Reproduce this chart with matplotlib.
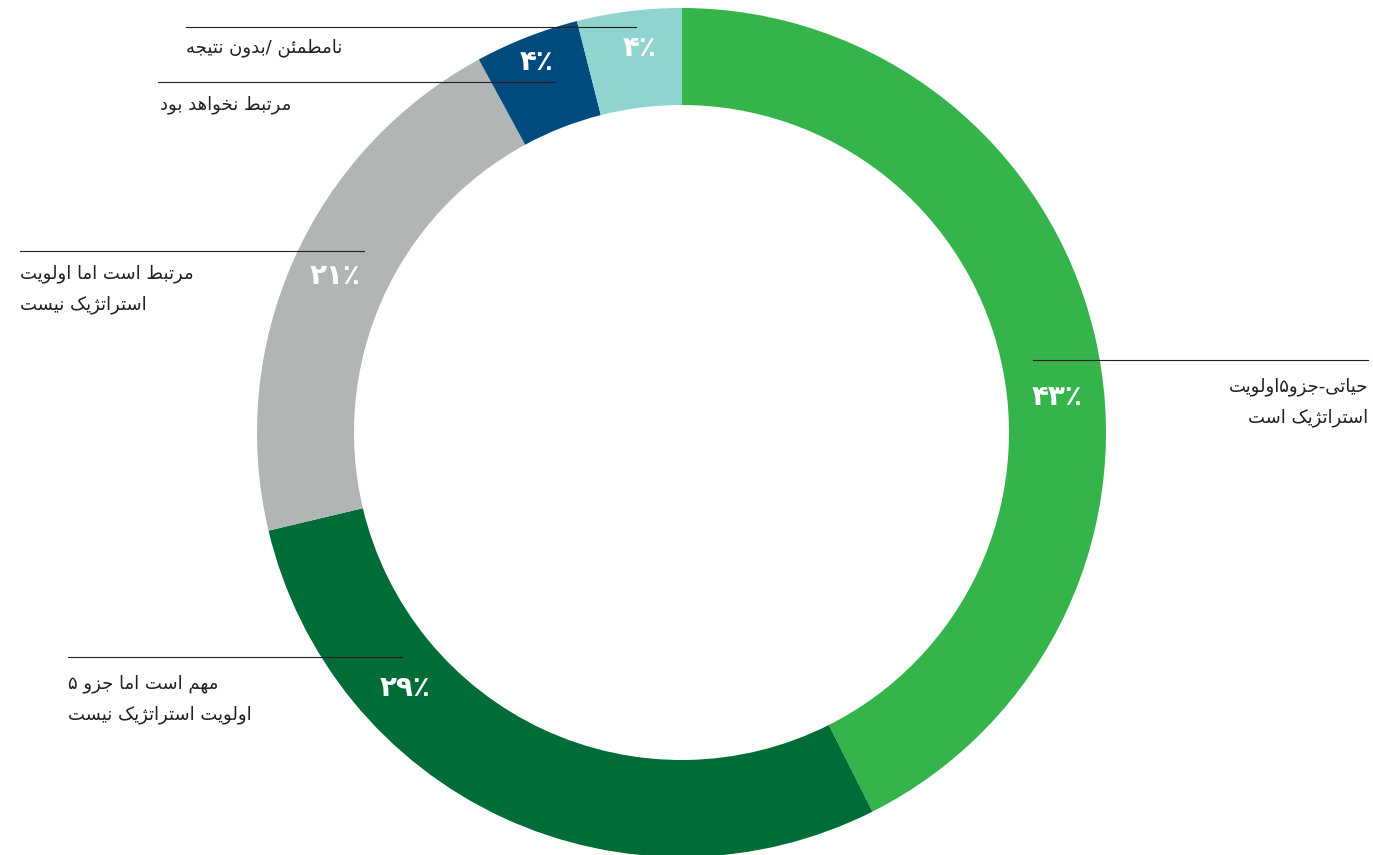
import matplotlib
matplotlib.use("Agg")
import matplotlib.pyplot as plt

W, H = 1373, 855

# share of answers, clockwise from 12 o'clock
values = [43, 29, 21, 4, 4]
pct_labels = ["۴۳٪", "۲۹٪", "۲۱٪", "۴٪", "۴٪"]
colors = ["#34b44a", "#006c38", "#b2b5b5", "#004b7e", "#8fd4cf"]
categories = [
    ["حیاتی-جزو۵اولویت", "استراتژیک است"],
    ["مهم است اما جزو ۵", "اولویت استراتژیک نیست"],
    ["مرتبط است اما اولویت", "استراتژیک نیست"],
    ["مرتبط نخواهد بود"],
    ["نامطمئن /بدون نتیجه"],
]

# contextual forms: isolated, final, initial, medial
FORMS = {
    "ا": "\ufe8d\ufe8e", "د": "\ufea9\ufeaa", "ذ": "\ufeab\ufeac",
    "ر": "\ufead\ufeae", "ز": "\ufeaf\ufeb0", "ژ": "\ufb8a\ufb8b",
    "و": "\ufeed\ufeee",
    "ب": "\ufe8f\ufe90\ufe91\ufe92", "ت": "\ufe95\ufe96\ufe97\ufe98",
    "ج": "\ufe9d\ufe9e\ufe9f\ufea0", "ح": "\ufea1\ufea2\ufea3\ufea4",
    "خ": "\ufea5\ufea6\ufea7\ufea8", "س": "\ufeb1\ufeb2\ufeb3\ufeb4",
    "ط": "\ufec1\ufec2\ufec3\ufec4", "ک": "\ufb8e\ufb8f\ufb90\ufb91",
    "ل": "\ufedd\ufede\ufedf\ufee0", "م": "\ufee1\ufee2\ufee3\ufee4",
    "ن": "\ufee5\ufee6\ufee7\ufee8", "ه": "\ufee9\ufeea\ufeeb\ufeec",
    "ی": "\ufbfc\ufbfd\ufbfe\ufbff", "ئ": "\ufe89\ufe8a\ufe8b\ufe8c",
}


def rtl(text):
    # pick joined glyph forms, then flip to visual order
    out = []
    for i, ch in enumerate(text):
        forms = FORMS.get(ch)
        if forms is None:
            out.append(ch)
            continue
        prev = text[i - 1] if i > 0 else ""
        nxt = text[i + 1] if i + 1 < len(text) else ""
        jp = prev in FORMS and len(FORMS[prev]) == 4
        jn = nxt in FORMS and len(forms) == 4
        if jp and jn:
            out.append(forms[3])
        elif jp:
            out.append(forms[1])
        elif jn:
            out.append(forms[2])
        else:
            out.append(forms[0])
    return "".join(reversed(out))


fig = plt.figure(figsize=(W / 100, H / 100), dpi=100)
ax = fig.add_axes([0, 0, 1, 1])

cx, cy = 681.5, H - 432.5
r_out, ring = 424.5, 97
ax.pie(values, colors=colors, startangle=90, counterclock=False,
       center=(cx, cy), radius=r_out,
       wedgeprops=dict(width=ring, linewidth=0))

ax.set_xlim(0, W)
ax.set_ylim(0, H)
ax.set_aspect("equal")
ax.axis("off")

# percentage labels inside the ring
pct_pos = [(1057, 397), (405, 688), (335, 276), (537, 62), (640, 48)]
for lab, (x, y) in zip(pct_labels, pct_pos):
    ax.text(x, H - y, lab, color="white", fontsize=20, fontweight="bold",
            ha="center", va="center")

# leader lines and category text
ink = "#231f20"
leaders = [(1033, 1368, 360), (68, 402, 657), (20, 364, 251),
           (158, 555, 82), (186, 636, 27)]
for x0, x1, y in leaders:
    ax.plot([x0, x1], [H - y, H - y], color=ink, lw=0.8)

text_pos = [(1368, 387, "right"), (68, 684, "left"), (20, 274, "left"),
            (160, 105, "left"), (186, 48, "left")]
for lines, (x, y, ha) in zip(categories, text_pos):
    for k, line in enumerate(lines):
        ax.text(x, H - y - 31 * k, rtl(line), color=ink, fontsize=13,
                ha=ha, va="center")

fig.savefig("out.png", dpi=100)
